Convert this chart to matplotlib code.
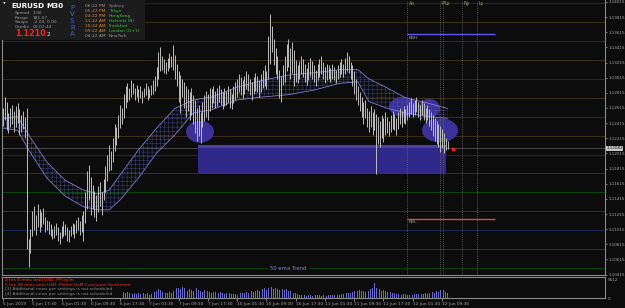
import numpy as np
import matplotlib.pyplot as plt
from matplotlib.patches import Ellipse, Rectangle
import matplotlib.transforms as mtransforms

plt.rcParams['hatch.linewidth'] = 0.25

W, H = 625, 308
BG = '#0c0c0c'

# EURUSD M30 bars (high / low), bar 0 = 5 Jun 09:30
highs = [1.1262, 1.1276, 1.1270, 1.1255, 1.1262, 1.1266, 1.1258, 1.1264, 1.1268, 1.1260,
         1.1252, 1.1258, 1.1250, 1.1262, 1.1088, 1.1102, 1.1125, 1.1132, 1.1120, 1.1135,
         1.1128, 1.1124, 1.1130, 1.1118, 1.1114, 1.1112, 1.1108, 1.1102, 1.1106, 1.1110,
         1.1104, 1.1098, 1.1106, 1.1112, 1.1108, 1.1104, 1.1100, 1.1106, 1.1110, 1.1108,
         1.1114, 1.1118, 1.1112, 1.1120, 1.1126, 1.1150, 1.1178, 1.1186, 1.1170, 1.1160,
         1.1152, 1.1146, 1.1158, 1.1164, 1.1150, 1.1168, 1.1185, 1.1200, 1.1212, 1.1205,
         1.1222, 1.1240, 1.1236, 1.1252, 1.1266, 1.1262, 1.1280, 1.1290, 1.1294, 1.1288,
         1.1298, 1.1294, 1.1288, 1.1292, 1.1286, 1.1290, 1.1284, 1.1288, 1.1294, 1.1290,
         1.1286, 1.1292, 1.1298, 1.1304, 1.1315, 1.1336, 1.1342, 1.1330, 1.1326, 1.1322,
         1.1328, 1.1334, 1.1330, 1.1345, 1.1332, 1.1320, 1.1310, 1.1305, 1.1300, 1.1296,
         1.1290, 1.1286, 1.1282, 1.1288, 1.1278, 1.1272, 1.1262, 1.1266, 1.1256, 1.1270,
         1.1278, 1.1284, 1.1280, 1.1288, 1.1286, 1.1290, 1.1284, 1.1288, 1.1292, 1.1286,
         1.1282, 1.1288, 1.1284, 1.1290, 1.1286, 1.1280, 1.1290, 1.1296, 1.1300, 1.1306,
         1.1302, 1.1298, 1.1304, 1.1310, 1.1306, 1.1300, 1.1296, 1.1302, 1.1308, 1.1304,
         1.1298, 1.1306, 1.1312, 1.1318, 1.1310, 1.1356, 1.1385, 1.1370, 1.1352, 1.1340,
         1.1330, 1.1312, 1.1304, 1.1318, 1.1330, 1.1346, 1.1352, 1.1340, 1.1348, 1.1338,
         1.1325, 1.1318, 1.1324, 1.1330, 1.1326, 1.1320, 1.1314, 1.1322, 1.1328, 1.1324,
         1.1318, 1.1312, 1.1320, 1.1326, 1.1330, 1.1322, 1.1316, 1.1320, 1.1318, 1.1314,
         1.1320, 1.1316, 1.1312, 1.1318, 1.1322, 1.1326, 1.1320, 1.1328, 1.1335, 1.1330,
         1.1322, 1.1318, 1.1310, 1.1300, 1.1290, 1.1282, 1.1276, 1.1270, 1.1272, 1.1262,
         1.1258, 1.1264, 1.1256, 1.1260, 1.1254, 1.1250, 1.1244, 1.1252, 1.1248, 1.1256,
         1.1250, 1.1244, 1.1252, 1.1258, 1.1254, 1.1248, 1.1256, 1.1262, 1.1258, 1.1264,
         1.1260, 1.1266, 1.1270, 1.1274, 1.1268, 1.1272, 1.1276, 1.1270, 1.1266, 1.1272,
         1.1268, 1.1262, 1.1266, 1.1260, 1.1256, 1.1252, 1.1248, 1.1244, 1.1240, 1.1238,
         1.1234, 1.1228, 1.1222, 1.1218]
lows = [1.1238, 1.1245, 1.1232, 1.1228, 1.1236, 1.1240, 1.1230, 1.1236, 1.1242, 1.1226,
        1.1230, 1.1234, 1.1222, 1.1075, 1.1051, 1.1070, 1.1092, 1.1100, 1.1094, 1.1104,
        1.1098, 1.1105, 1.1108, 1.1098, 1.1100, 1.1095, 1.1092, 1.1088, 1.1090, 1.1094,
        1.1086, 1.1082, 1.1090, 1.1092, 1.1094, 1.1086, 1.1084, 1.1092, 1.1095, 1.1090,
        1.1096, 1.1100, 1.1094, 1.1098, 1.1086, 1.1110, 1.1128, 1.1140, 1.1120, 1.1128,
        1.1118, 1.1112, 1.1124, 1.1132, 1.1120, 1.1140, 1.1150, 1.1165, 1.1178, 1.1180,
        1.1190, 1.1205, 1.1212, 1.1222, 1.1235, 1.1240, 1.1248, 1.1262, 1.1270, 1.1272,
        1.1276, 1.1280, 1.1272, 1.1276, 1.1270, 1.1274, 1.1268, 1.1276, 1.1278, 1.1272,
        1.1274, 1.1278, 1.1280, 1.1284, 1.1290, 1.1300, 1.1310, 1.1312, 1.1308, 1.1306,
        1.1310, 1.1314, 1.1316, 1.1312, 1.1300, 1.1290, 1.1270, 1.1255, 1.1276, 1.1262,
        1.1250, 1.1258, 1.1246, 1.1252, 1.1240, 1.1228, 1.1218, 1.1224, 1.1215, 1.1236,
        1.1244, 1.1250, 1.1246, 1.1258, 1.1262, 1.1268, 1.1262, 1.1264, 1.1270, 1.1266,
        1.1260, 1.1264, 1.1266, 1.1270, 1.1262, 1.1260, 1.1268, 1.1272, 1.1276, 1.1282,
        1.1278, 1.1274, 1.1280, 1.1286, 1.1284, 1.1278, 1.1272, 1.1280, 1.1284, 1.1282,
        1.1276, 1.1282, 1.1288, 1.1290, 1.1286, 1.1300, 1.1320, 1.1335, 1.1318, 1.1306,
        1.1300, 1.1275, 1.1270, 1.1292, 1.1296, 1.1310, 1.1315, 1.1300, 1.1308, 1.1290,
        1.1296, 1.1294, 1.1300, 1.1306, 1.1302, 1.1296, 1.1292, 1.1298, 1.1304, 1.1300,
        1.1296, 1.1290, 1.1298, 1.1302, 1.1306, 1.1300, 1.1294, 1.1298, 1.1300, 1.1296,
        1.1300, 1.1298, 1.1294, 1.1300, 1.1302, 1.1306, 1.1302, 1.1306, 1.1310, 1.1308,
        1.1300, 1.1290, 1.1280, 1.1272, 1.1266, 1.1258, 1.1250, 1.1240, 1.1248, 1.1236,
        1.1230, 1.1236, 1.1226, 1.1232, 1.1174, 1.1214, 1.1210, 1.1222, 1.1216, 1.1226,
        1.1228, 1.1224, 1.1230, 1.1234, 1.1232, 1.1226, 1.1234, 1.1240, 1.1236, 1.1242,
        1.1240, 1.1246, 1.1250, 1.1254, 1.1250, 1.1252, 1.1256, 1.1250, 1.1246, 1.1252,
        1.1246, 1.1242, 1.1246, 1.1238, 1.1232, 1.1224, 1.1218, 1.1214, 1.1210, 1.1204,
        1.1208, 1.1202, 1.1206, 1.1207]
bid = 1.12082

# moving average ribbon edges
rib_bars = [0, 8, 14, 24, 34, 44, 52, 58, 64, 74, 84, 94, 104, 114, 128, 142, 156, 170, 184, 194, 200, 210, 220, 232, 243]
rib_upper = [1.1248, 1.1250, 1.1226, 1.1190, 1.1166, 1.1153, 1.1148, 1.1153, 1.1173, 1.1206, 1.1235, 1.1261, 1.1272,
             1.1276, 1.1289, 1.1298, 1.1305, 1.1308, 1.1312, 1.1312, 1.1300, 1.1288, 1.1275, 1.1268, 1.1261]
rib_lower = [1.1235, 1.1232, 1.1206, 1.1169, 1.1145, 1.1131, 1.1127, 1.1127, 1.1140, 1.1169, 1.1202, 1.1226, 1.1255,
             1.1259, 1.1272, 1.1276, 1.1279, 1.1285, 1.1294, 1.1296, 1.1270, 1.1261, 1.1255, 1.1250, 1.1248]

# tick volume (bars 66..243)
vol_start = 66
volumes = [1900, 1500, 1700, 1400, 1600, 1300, 1500, 1200, 1400, 1100, 1300, 1500, 1200, 1400, 1000, 1300, 1500, 1700,
           2100, 2600, 2300, 1900, 1700, 1600, 1500, 1800, 1400, 2200,
           2500, 2900, 3100, 2700, 3300, 2900, 2500, 2200, 2700, 2400, 2000, 2600, 2900, 2400, 2200, 1900, 2300, 2600,
           2100, 1800, 1600, 1900,
           1700, 1500, 1400, 1800, 1600, 1300, 1500, 1200, 1400, 1100, 1300, 1200, 1000, 1300, 1500, 1400, 1600, 1700,
           1500, 1900, 2100, 1800, 2200, 2400, 2000,
           2300, 2600, 2900, 2500, 3000, 3500, 3200, 2800, 3100, 2600, 2400, 2900, 2700, 2300, 2600, 2200, 2000, 1800,
           1600, 1400,
           1100, 900, 1000, 800, 900, 700, 800, 900, 700, 800, 900, 1000, 800, 700, 900, 800, 700, 900, 1000, 800, 900,
           1100, 1000, 900, 1200, 1300, 1100, 1500, 1600, 1400,
           1800, 2000, 1700, 2100, 2300, 2000, 2200, 1900, 2400, 2100, 2600, 3000, 4400, 2900, 3100,
           2600, 2200, 2500, 2000, 1800, 1600, 1700, 1400, 1500, 1200,
           1100, 1000, 900, 1100, 1200, 1000, 900, 1100, 1000, 1200, 1100, 1300, 1000, 1200, 1100, 1400, 1300, 1600,
           1700, 1900, 1600, 2100, 1800, 2300, 2000, 2400, 1800, 1500]
vol_max = 5612

# chart objects: ellipses (bar, price, width in bars, height in price), zone, levels
ellipses = [(107.7, 1.1230, 15.3, 0.0029), (218.7, 1.1263, 15.3, 0.00264),
            (232.9, 1.1261, 12.0, 0.0025), (238.9, 1.1232, 19.7, 0.0032)]
zone_bars = (106.6, 242.2)
zone_prices = (1.11743, 1.12126)
kdh, kdl = 1.1359, 1.1115
level_end = 268.8
session_bars = [220.9, 239.0, 240.6, 251.0, 259.0]
session_names = ['Ao', 'P', 'Lo', 'Ny', 'Lc']

quarter_levels = [1.1050, 1.1075, 1.1100, 1.1125, 1.1150, 1.1175, 1.1200, 1.1225,
                  1.1250, 1.1275, 1.1300, 1.1325, 1.1350, 1.1375, 1.1400]
price_ticks = [1.14015, 1.13815, 1.13615, 1.13415, 1.13215, 1.13015, 1.12815, 1.12615, 1.12415, 1.12215,
               1.12015, 1.11815, 1.11615, 1.11415, 1.11215, 1.11015, 1.10815, 1.10615, 1.10415]
time_bars = [0, 16, 32, 48, 64, 80, 96, 112, 128, 144, 160, 176, 192, 208, 224, 240]
time_labels = ['5 Jun 2019', '5 Jun 17:30', '6 Jun 01:30', '6 Jun 09:30', '6 Jun 17:30', '7 Jun 01:30',
               '7 Jun 09:30', '7 Jun 17:30', '10 Jun 01:30', '10 Jun 09:30', '10 Jun 17:30', '11 Jun 01:30',
               '11 Jun 09:30', '11 Jun 17:30', '12 Jun 01:30', '12 Jun 09:30']

fig = plt.figure(figsize=(W / 100, H / 100), dpi=100, facecolor=BG)

ax = fig.add_axes([2 / W, 1 - 275 / H, 603 / W, 275 / H], facecolor=BG)
axv = fig.add_axes([2 / W, 1 - 298 / H, 603 / W, 21 / H], facecolor=BG)

xlim = (-0.55, 329.1)
ax.set_xlim(*xlim)
ax.set_ylim(1.10410, 1.14040)

# quarter point lines
for p in quarter_levels:
    k = int(round(p * 10000)) % 100
    if k == 0:
        c = '#1c2650'
    elif k == 50:
        c = '#0c440c'
    else:
        c = '#3e3018'
    ax.axhline(p, color=c, lw=0.7, zorder=0.5)
ax.axhline(bid, color='#4a4a4a', lw=0.7, zorder=0.6)

# zone and ellipses
ax.add_patch(Rectangle((zone_bars[0], zone_prices[0]), zone_bars[1] - zone_bars[0],
                       zone_prices[1] - zone_prices[0], facecolor='#30288a', edgecolor='none', zorder=1))
ax.add_patch(Rectangle((zone_bars[0], zone_prices[1] - 0.0004), zone_bars[1] - zone_bars[0], 0.0004,
                       facecolor='#4a40a8', edgecolor='none', zorder=1.1))
for bx, py, w, h in ellipses:
    ax.add_patch(Ellipse((bx, py), w, h, facecolor='#3a3298', edgecolor='none', zorder=1.2))

# ribbon
ax.fill_between(rib_bars, rib_lower, rib_upper, facecolor='none', edgecolor='#5454ae',
                hatch='++++', lw=0, zorder=2)
ax.plot(rib_bars, rib_upper, color='#8484e0', lw=0.55, zorder=2.1)
ax.plot(rib_bars, rib_lower, color='#8484e0', lw=0.55, zorder=2.1)

# bars
n = len(highs)
ax.vlines(np.arange(n), lows, highs, color='#bebebe', lw=0.7, zorder=3)
ax.plot([n + 2], [bid - 0.00008], marker='s', ms=1.6, color='#ff2020', zorder=4)

# session lines
for b, name in zip(session_bars, session_names):
    ax.axvline(b, color='#6e6e6e', lw=0.5, ls=(0, (1.5, 1.5)), zorder=2.5)
    ax.text(b + 0.8, 1.1403, name, color='#a8a070', fontsize=3.4, va='top', ha='left')

# daily high / low
ax.hlines(kdh, session_bars[0], level_end, color='#5a5af0', lw=1.0, zorder=3)
ax.text(session_bars[0] + 0.6, kdh - 0.0002, 'KDH', color='#a0a0a0', fontsize=3.2, va='top')
ax.hlines(kdl, session_bars[0], level_end, color='#d84848', lw=1.0, zorder=3)
ax.text(session_bars[0] + 0.6, kdl - 0.0002, 'KDL', color='#a0a0a0', fontsize=3.2, va='top')

ax.text(146, 1.1050, '50 ema Trend', color='#8a8ad0', fontsize=3.8, ha='left', va='center',
        bbox=dict(facecolor=BG, edgecolor='none', pad=1.5), zorder=4)

# price axis
ax.yaxis.tick_right()
ax.set_yticks(price_ticks)
ax.set_yticklabels(['%.5f' % p for p in price_ticks])
ax.tick_params(axis='y', colors='#a8a8a8', labelsize=3.0, length=1.5, width=0.5, pad=0.8)
ax.set_xticks([])
for s in ax.spines.values():
    s.set_color('#8a8a8a')
    s.set_linewidth(0.8)
ax.spines['top'].set_visible(False)
trans = mtransforms.blended_transform_factory(ax.transAxes, ax.transData)
ax.text(1.002, bid, '%.5f' % bid, transform=trans, color='#101010', fontsize=3.0, va='center', ha='left',
        bbox=dict(facecolor='#c8c8c8', edgecolor='none', pad=0.4), zorder=6)

# volume pane
axv.set_xlim(*xlim)
axv.set_ylim(0, vol_max * 1.12)
axv.bar(np.arange(vol_start, vol_start + len(volumes)), volumes, width=0.45, color='#6a6ad0', lw=0)
axv.yaxis.tick_right()
axv.set_yticks([0, vol_max])
axv.set_yticklabels(['0', str(vol_max)])
axv.tick_params(axis='y', colors='#a8a8a8', labelsize=3.0, length=0, pad=2)
axv.set_xticks(time_bars)
axv.set_xticklabels(time_labels, ha='left')
axv.tick_params(axis='x', colors='#a8a8a8', labelsize=3.1, length=2, width=0.5, pad=0.8)
for s in axv.spines.values():
    s.set_color('#8a8a8a')
    s.set_linewidth(0.8)

news = [('4 hrs 8 mins until USD: PPI m/m', '#ff2a2a'),
        ('5 hrs 38 mins until USD: Prelim UoM Consumer Sentiment', '#ff2a2a'),
        ('[3] Additional news per settings is not scheduled', '#8c8c8c'),
        ('[4] Additional news per settings is not scheduled', '#8c8c8c')]
for i, (t, c) in enumerate(news):
    fig.text(5 / W, 1 - (280 + 4.7 * i) / H, t, color=c, fontsize=3.2, va='center', ha='left')

# info panel
fig.patches.append(Rectangle((0, 1 - 40 / H), 145 / W, 40 / H, transform=fig.transFigure,
                             facecolor='#1c1c1c', edgecolor='none', zorder=5))


def ft(x, y, s, **kw):
    fig.text(x / W, 1 - y / H, s, va='center', ha='left', zorder=6, **kw)


ft(3, 4, '\u25bc', color='#e0e0e0', fontsize=2.5)
ft(11, 6, 'EURUSD', color='white', fontsize=5.2, fontweight='bold')
ft(46, 6, 'M30', color='white', fontsize=5.2, fontweight='bold')
rows = [('Spread', '1.90'), ('Range', '181.07'), ('Swaps', '-2.00, 0.00'), ('Candle', '00:07:44')]
for i, (a, b) in enumerate(rows):
    ft(15, 13 + 4.6 * i, a, color='#9a9a9a', fontsize=3.2)
    ft(33, 13 + 4.6 * i, b, color='#9a9a9a', fontsize=3.2)
ft(15, 34, '1.1210', color='#ff2020', fontsize=5.8, fontweight='bold')
ft(47, 35, '2', color='#e0e0e0', fontsize=4.2)
for i, ch in enumerate('PVSRA'):
    ft(70, 7.5 + 6.7 * i, ch, color='#4a5ad8', fontsize=5)
times = ['06:22 PM', '05:22 PM', '04:22 PM', '11:22 AM', '10:22 AM', '09:22 AM', '04:22 AM']
towns = ['Sydney', 'Tokyo', 'HongKong', 'Helsinki (B)', 'Frankfurt', 'London (G+1)', 'NewYork']
tcols = ['#a09a90', '#e08a30', '#e08a30', '#e08a30', '#e08a30', '#e08a30', '#a09a90']
ncols = ['#909090', '#3cc03c', '#3cc03c', '#3cc03c', '#3cc03c', '#3cc03c', '#909090']
for i in range(7):
    ft(85, 5.8 + 5.0 * i, times[i], color=tcols[i], fontsize=3.2)
    ft(109, 5.8 + 5.0 * i, towns[i], color=ncols[i], fontsize=3.2)

fig.savefig('out.png', dpi=100, facecolor=BG)
